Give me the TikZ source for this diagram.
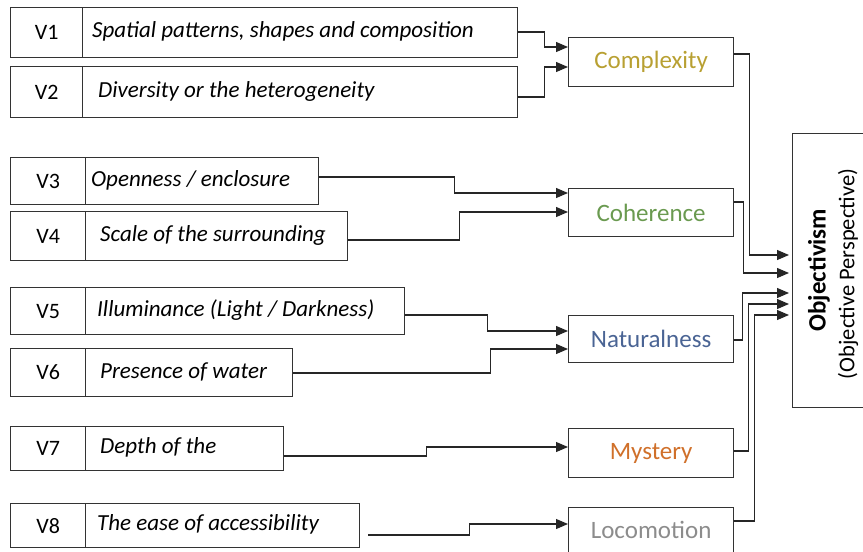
\documentclass[tikz,border=0pt]{standalone}
\usepackage{fontspec}
\setmainfont{Carlito}
\usetikzlibrary{arrows.meta}
\definecolor{boxc}{HTML}{333333}
\definecolor{linec}{HTML}{262626}
\definecolor{cplxc}{HTML}{B8A032}
\definecolor{cohc}{HTML}{6A9A50}
\definecolor{natc}{HTML}{4A6494}
\definecolor{mysc}{HTML}{D0702A}
\definecolor{locc}{HTML}{8C8C8C}
\begin{document}
\begin{tikzpicture}[x=1pt,y=-1pt,
  box/.style={draw=boxc, line width=1.2pt, inner sep=0pt, anchor=north west},
  vlab/.style={font=\fontsize{22}{26}\selectfont},
  vtxt/.style={anchor=west, inner sep=0pt, font=\fontsize{23}{27}\selectfont\itshape},
  fbox/.style={box, minimum width=165pt, font=\fontsize{25}{29}\selectfont},
  arr/.style={draw=linec, line width=1.1pt, -{Triangle[length=12pt,width=10pt]}}]
\useasboundingbox (0,0) rectangle (863,552);

% V boxes
\node[box, vlab, minimum width=72pt, minimum height=50pt] (v1l) at (10,7) {V1};
\node[box, minimum width=435pt, minimum height=50pt] (v1) at (82,7) {};
\node[vtxt] (v1t) at ([xshift=10pt,yshift=1pt]v1.west) {Spatial patterns, shapes and composition};

\node[box, vlab, minimum width=72pt, minimum height=51pt] (v2l) at (10,66) {V2};
\node[box, minimum width=435pt, minimum height=51pt] (v2) at (82,66) {};
\node[vtxt] (v2t) at ([xshift=16pt,yshift=1pt]v2.west) {Diversity or the heterogeneity};

\node[box, vlab, minimum width=75pt, minimum height=47pt] (v3l) at (10,157) {V3};
\node[box, minimum width=233pt, minimum height=47pt] (v3) at (85,157) {};
\node[vtxt] (v3t) at ([xshift=6pt,yshift=1pt]v3.west) {Openness / enclosure};

\node[box, vlab, minimum width=75pt, minimum height=49pt] (v4l) at (10,211) {V4};
\node[box, minimum width=262pt, minimum height=49pt] (v4) at (85,211) {};
\node[vtxt] (v4t) at ([xshift=15pt,yshift=1pt]v4.west) {Scale of the surrounding};

\node[box, vlab, minimum width=75pt, minimum height=47pt] (v5l) at (10,287) {V5};
\node[box, minimum width=319pt, minimum height=47pt] (v5) at (85,287) {};
\node[vtxt] (v5t) at ([xshift=12pt,yshift=1pt]v5.west) {Illuminance (Light / Darkness)};

\node[box, vlab, minimum width=75pt, minimum height=48pt] (v6l) at (10,348) {V6};
\node[box, minimum width=207pt, minimum height=48pt] (v6) at (85,348) {};
\node[vtxt] (v6t) at ([xshift=15pt,yshift=1pt]v6.west) {Presence of water};

\node[box, vlab, minimum width=75pt, minimum height=44pt] (v7l) at (10,426) {V7};
\node[box, minimum width=198pt, minimum height=44pt] (v7) at (85,426) {};
\node[vtxt] (v7t) at ([xshift=15pt,yshift=1pt]v7.west) {Depth of the};

\node[box, vlab, minimum width=75pt, minimum height=44pt] (v8l) at (10,503) {V8};
\node[box, minimum width=274pt, minimum height=44pt] (v8) at (85,503) {};
\node[vtxt] (v8t) at ([xshift=12pt,yshift=1pt]v8.west) {The ease of accessibility};

% factor boxes
\node[fbox, minimum height=49pt, text=cplxc] (cplx) at (568,37) {Complexity};
\node[fbox, minimum height=48pt, text=cohc] (coh) at (568,188) {Coherence};
\node[fbox, minimum height=47pt, text=natc] (nat) at (568,315) {Naturalness};
\node[fbox, minimum height=49pt, text=mysc] (mys) at (568,428) {Mystery};
\node[fbox, minimum height=45pt, text=locc] (loc) at (568,507) {Locomotion};

% objectivism
\node[box, minimum width=80pt, minimum height=274pt] (obj) at (792,133) {};
\node[rotate=90, font=\fontsize{25}{29}\selectfont\bfseries] (objA) at (819,270) {Objectivism};
\node[rotate=90, font=\fontsize{22.5}{27}\selectfont] (objB) at (848,274) {(Objective Perspective)};

% connectors left
\draw[arr] (v1.east|-0,32) -- ++(26,0) |- (cplx.west|-0,47);
\draw[arr] (v2.east|-0,97) -- ++(26,0) |- (cplx.west|-0,67);
\draw[arr] (v3.east|-0,177) -- ++(135,0) |- (coh.west|-0,193);
\draw[arr] (v4.east|-0,240) -- ++(111,0) |- (coh.west|-0,212);
\draw[arr] (v5.east|-0,315) -- ++(82,0) |- (nat.west|-0,331);
\draw[arr] (v6.east|-0,373) -- ++(197,0) |- (nat.west|-0,349);
\draw[arr] (v7.east|-0,456) -- ++(142,0) |- (mys.west|-0,447);
\coordinate (v8s) at ([xshift=8pt]v8.east|-0,535);
\draw[arr] (v8s) -- ++(101,0) |- (loc.west|-0,524);

% connectors right
\draw[arr] (cplx.east|-0,54) -- ++(15,0) |- ([xshift=-3pt]obj.west|-0,255);
\draw[arr] (coh.east|-0,202) -- ++(9,0) |- ([xshift=-3pt]obj.west|-0,273);
\draw[arr] (nat.east|-0,340) -- ++(8,0) |- ([xshift=-3pt]obj.west|-0,293);
\draw[arr] (mys.east|-0,451) -- ++(14,0) |- ([xshift=-3pt]obj.west|-0,304);
\draw[arr] (loc.east|-0,521) -- ++(20,0) |- ([xshift=-3pt]obj.west|-0,315);
\end{tikzpicture}
\end{document}
